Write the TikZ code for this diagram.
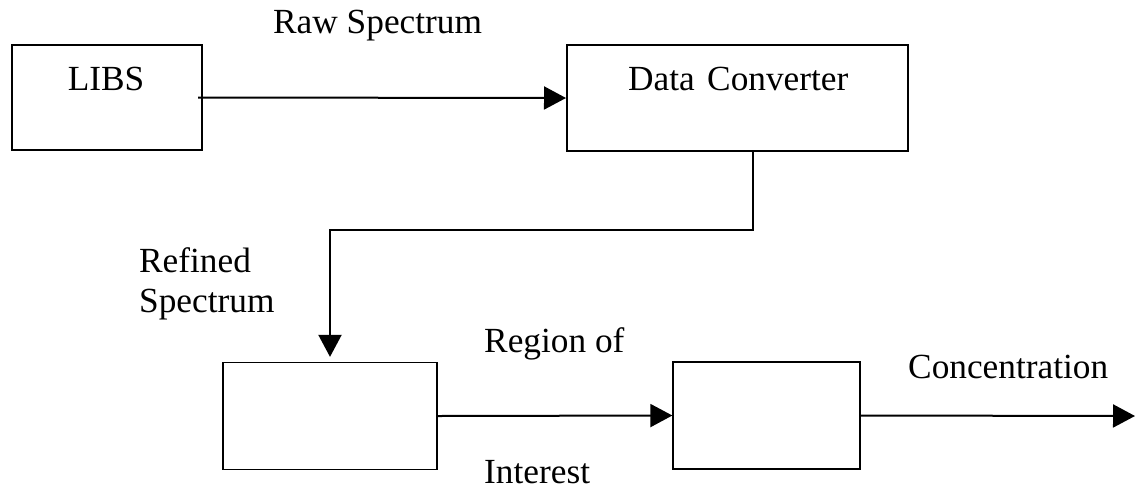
\documentclass[tikz,border=0pt]{standalone}
\usepackage{fontspec}
\setmainfont{Liberation Serif}
\usetikzlibrary{arrows.meta}
\begin{document}
\begin{tikzpicture}[x=1pt,y=-1pt,
  font=\fontsize{35.3}{42}\selectfont,
  topbox/.style={draw,line width=2pt,inner sep=0pt,minimum width=#1},
  botbox/.style={draw,line width=1.3pt,inner sep=0pt,minimum height=107pt,minimum width=#1},
  lbl/.style={inner sep=0pt,anchor=base west},
  conn/.style={line width=2pt,-{Triangle[length=22pt,width=23pt]}}]
\useasboundingbox (0,0) rectangle (1135,491);
% boxes
\node[topbox=190pt,minimum height=105pt] (libs) at (107,97.5) {};
\node[topbox=341pt,minimum height=106pt] (dc) at (737.5,98) {};
\node[botbox=214pt] (roi) at (330,416) {};
\node[botbox=187pt] (conc) at (766.5,415.5) {};
% box texts
\node[inner sep=0pt,anchor=base] (libsT) at (106,90) {LIBS};
\node[lbl] (dcT) at (628,90) {Data\hspace{0.35em}Converter};
% labels
\node[lbl] (raw) at (273,33) {Raw Spectrum};
\node[lbl] (ref1) at (139,272) {Refined};
\node[lbl] (ref2) at (139,312) {Spectrum};
\node[lbl] (reg1) at (484,352) {Region of};
\node[lbl] (reg2) at (484,483) {Interest};
\node[lbl] (concT) at (908,378) {Concentration};
% connectors
\coordinate (out) at (1135,416);
\draw[conn] ([xshift=-5pt]libs.east) -- (dc.west);
\draw[conn,shorten >=5pt] ([xshift=15.5pt]dc.south) |- (330,230) -- (roi.north);
\draw[conn] (roi.east) -- (conc.west);
\draw[conn] (conc.east) -- (out);
\end{tikzpicture}
\end{document}
